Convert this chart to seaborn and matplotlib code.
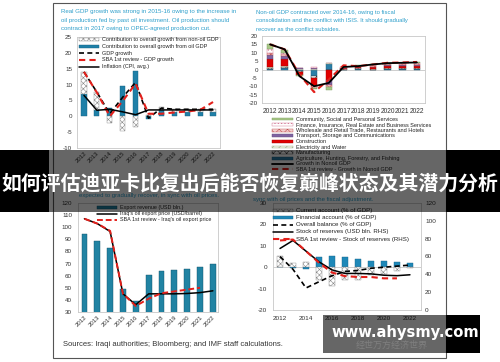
import numpy as np
import matplotlib
matplotlib.use("Agg")
import matplotlib.pyplot as plt
import seaborn as sns
from matplotlib.patches import Rectangle

sns.set_style("white")
plt.rcParams["font.family"] = ["Liberation Sans", "DejaVu Sans"]
plt.rcParams["hatch.linewidth"] = 0.4

# ---------------- data ----------------
years = [str(y) for y in range(2012, 2023)]

# Panel 1: real GDP growth
oil_contrib = [7.0, 2.0, 2.6, 9.6, 14.4, -0.9, 2.0, 1.4, 1.4, 1.4, 1.2]
nonoil_contrib = [7.0, 5.6, -2.1, -4.6, -3.3, 0.3, 0.8, 0.8, 0.8, 0.8, 1.0]
gdp_growth = [14.0, 7.6, 0.8, 6.0, 10.7, -0.6, 2.6, 2.2, 2.2, 2.2, 2.2]
sba_gdp_growth = [14.0, 7.5, 0.0, 4.8, 10.3, 0.8, 0.8, 1.2, 1.5, 2.0, 4.5]
inflation = [6.6, 1.9, 2.2, 1.4, 0.5, 2.0, 2.0, 2.0, 2.0, 2.0, 2.0]

# Panel 2: non-oil GDP growth by sector (contributions)
sectors = ["Community, Social and Personal Services",
           "Finance, Insurance, Real Estate and Business Services",
           "Wholesale and Retail Trade, Restaurants and Hotels",
           "Transport, Storage and Communications",
           "Construction",
           "Electricity and Water",
           "Manufacturing",
           "Agriculture, Hunting, Forestry, and Fishing"]
community = [2.5, 1.5, -0.5, -0.5, -2.0, 0.3, 0.3, 0.4, 0.5, 0.5, 0.5]
finance = [2.5, 1.0, 0.3, 0.2, 0.3, 0.3, 0.3, 0.4, 0.4, 0.5, 0.5]
wholesale = [1.5, 1.0, -0.5, -1.0, -1.0, 0.3, 0.4, 0.5, 0.6, 0.6, 0.6]
transport = [2.5, 2.0, 0.5, 0.5, -3.0, 0.2, 0.3, 0.4, 0.5, 0.5, 0.5]
construction = [4.5, 4.0, -1.5, -5.0, -6.0, 0.4, 0.5, 0.8, 1.0, 1.0, 1.0]
electricity = [0.5, 0.5, 0.2, 0.5, 0.2, 0.1, 0.1, 0.2, 0.2, 0.2, 0.2]
manufacturing = [0.5, 0.5, -0.5, -1.0, -0.3, 0.1, 0.2, 0.3, 0.3, 0.4, 0.4]
agriculture = [0.5, 1.0, -1.0, -4.0, 3.5, -0.5, 0.5, -0.5, 0.4, 0.4, 0.5]
nonoil_growth = [15.0, 12.0, -4.0, -10.0, -8.0, 1.5, 2.0, 3.0, 3.8, 4.0, 4.2]
sba_nonoil_growth = [15.0, 12.0, -3.0, -13.5, -6.0, 2.5, 2.0, 3.0, 4.0, 4.2, 4.5]

# Panel 3: exports
export_revenue = [94, 89, 83, 49, 39, 60.5, 64, 64.5, 65.5, 67.5, 70]
oil_export_price = [107, 103, 96.5, 45, 36, 45, 45, 45, 45.3, 46, 47.5]
sba_oil_export_price = [107, 103, 97, 45, 35, 41, 45.5, 47, 48.5, 50]

# Panel 4: external sector
current_account = [5.2, 1.9, 2.5, -6.0, -8.6, -6.0, -6.2, -3.8, -3.1, -1.7, -0.6]
financial_account = [0.0, -0.5, -1.0, 5.0, 5.3, 5.0, 4.0, 3.1, 2.7, 2.3, 1.9]
overall_balance = [5.0, -1.0, -9.7, -6.8, -4.0, -2.0, -1.5, -0.5, 0.0, 0.5, 1.0]
reserves = [69, 78, 66, 54, 45, 41, 41, 40.5, 39, 38.5, 39.5]
sba_reserves = [78, 79, 66, 53, 42, 38, 37, 37, 35.5, 35.5]

# ---------------- figure ----------------
W, H = 500, 362
fig = plt.figure(figsize=(5, 3.62), dpi=100)


def add_ax(x0, y0, x1, y1):
    return fig.add_axes([x0 / W, 1 - y1 / H, (x1 - x0) / W, (y1 - y0) / H])


bg = add_ax(0, 0, W, H)
bg.set_xlim(0, W); bg.set_ylim(H, 0); bg.axis("off"); bg.set_zorder(0)
bg.add_patch(Rectangle((53, 3), 393, 355, facecolor="white", edgecolor="#555555", lw=0.8))

TXT = "#333333"
TEAL = "#2e9fcb"
RED = "#e3201b"


def style(ax, size=4.5):
    ax.set_facecolor("white")
    for s in ax.spines.values():
        s.set_color("#c8c8c8"); s.set_linewidth(0.6)
    ax.tick_params(length=0, labelsize=size, colors=TXT)
    ax.set_xlabel(""); ax.set_ylabel("")
    ax.set_zorder(1)


idx = np.arange(len(years))

# ---------- Panel 1 ----------
ax1 = add_ax(77, 37, 220, 148)
ax1.bar(idx, oil_contrib, width=0.4, color="#1f80a8", edgecolor="#15607f", lw=0.3, zorder=2)
nb = [o if (o > 0) == (n > 0) else 0 for o, n in zip(oil_contrib, nonoil_contrib)]
ax1.bar(idx, nonoil_contrib, bottom=nb, width=0.4, facecolor="white", edgecolor="#888888",
        hatch="xxxxxx", lw=0.3, zorder=2)
sns.lineplot(x=idx, y=gdp_growth, ax=ax1, color="black", lw=1.2, linestyle=(0, (3, 2)), zorder=3)
sns.lineplot(x=idx, y=sba_gdp_growth, ax=ax1, color=RED, lw=1.5, linestyle=(0, (3, 2)), zorder=4)
sns.lineplot(x=idx, y=inflation, ax=ax1, color="black", lw=1.1, zorder=5)
ax1.set_xlim(-0.54, 10.54); ax1.set_ylim(-10, 25)
ax1.set_yticks(range(-10, 26, 5)); ax1.set_yticklabels([str(v) for v in range(-10, 26, 5)])
ax1.set_xticks(idx); ax1.set_xticklabels(years, rotation=45, ha="right", rotation_mode="anchor")
style(ax1)
ax1.tick_params(axis="y", pad=3.6)
ax1.tick_params(axis="x", pad=2, labelsize=4.3)

# ---------- Panel 2 ----------
ax2 = add_ax(262, 36, 425, 103)
stack_order = [agriculture, manufacturing, electricity, construction, transport, wholesale, finance, community]
sty = [dict(facecolor="#2a7fa8", edgecolor="#1d5d7a"),
       dict(facecolor="white", edgecolor="#333333", hatch="xxxxx"),
       dict(facecolor="#eef3e0", edgecolor="#9aa88a", hatch="/////"),
       dict(facecolor="#e00000", edgecolor="#a00000"),
       dict(facecolor="#8064a2", edgecolor="#5e4a78"),
       dict(facecolor="#f4d0d0", edgecolor="#c05050", hatch="xxxx"),
       dict(facecolor="white", edgecolor="#d07090", hatch="....."),
       dict(facecolor="#a8c888", edgecolor="#7a9a5e")]
pos = np.zeros(11); neg = np.zeros(11)
for vals, st in zip(stack_order, sty):
    v = np.array(vals)
    b = np.where(v >= 0, pos, neg)
    ax2.bar(idx, v, bottom=b, width=0.45, lw=0.3, zorder=2, **st)
    pos = pos + np.where(v >= 0, v, 0); neg = neg + np.where(v < 0, v, 0)
ax2.axhline(0, color="#bbbbbb", lw=0.5, zorder=1)
sns.lineplot(x=idx, y=sba_nonoil_growth, ax=ax2, color=RED, lw=1.5, linestyle=(0, (3, 2)), zorder=4)
sns.lineplot(x=idx, y=nonoil_growth, ax=ax2, color="black", lw=1.3, zorder=5)
ax2.set_xlim(-0.55, 10.55); ax2.set_ylim(-20, 20)
ax2.set_yticks(range(-20, 21, 5)); ax2.set_yticklabels([str(v) for v in range(-20, 21, 5)])
ax2.set_xticks(idx); ax2.set_xticklabels(years)
style(ax2)
ax2.tick_params(axis="y", pad=3)
ax2.tick_params(axis="x", pad=3.5, labelsize=4.8)

# ---------- Panel 3 ----------
ax3 = add_ax(78, 203, 218, 312)
sns.barplot(x=years, y=export_revenue, ax=ax3, color="#2183a3", saturation=1, width=0.45,
            edgecolor="#0f4f66", linewidth=0.3, zorder=2)
sns.lineplot(x=idx, y=oil_export_price, ax=ax3, color="black", lw=1.1, zorder=3)
sns.lineplot(x=idx[:len(sba_oil_export_price)], y=sba_oil_export_price, ax=ax3, color=RED, lw=1.4,
             linestyle=(0, (3, 1.5)), zorder=4)
ax3.set_xlim(-0.5, 10.4); ax3.set_ylim(30, 120)
ax3.set_yticks(range(30, 121, 10)); ax3.set_yticklabels([str(v) for v in range(30, 121, 10)])
ax3.set_xticks(idx); ax3.set_xticklabels(years, rotation=45, ha="right", rotation_mode="anchor")
style(ax3)
ax3.tick_params(axis="y", pad=4.3)
ax3.tick_params(axis="x", pad=2, labelsize=4.3)

# ---------- Panel 4 ----------
ax4 = add_ax(273, 203, 421, 310)
sns.barplot(x=years, y=financial_account, ax=ax4, color="#1e88b8", saturation=1, width=0.4,
            edgecolor="#15648a", linewidth=0.3, zorder=2)
sns.barplot(x=years, y=current_account, ax=ax4, color="white", saturation=1, width=0.4,
            edgecolor="#888888", linewidth=0.3, hatch="xxxxxx", zorder=2)
ax4.axhline(0, color="#bbbbbb", lw=0.5, zorder=1)
sns.lineplot(x=idx, y=overall_balance, ax=ax4, color="black", lw=1.2, linestyle=(0, (3, 2)), zorder=3)
ax4.set_xlim(-0.54, 10.85); ax4.set_ylim(-20, 30)
ax4.set_yticks(range(-20, 31, 10)); ax4.set_yticklabels([str(v) for v in range(-20, 31, 10)])
ax4.set_xticks(idx[::2]); ax4.set_xticklabels(years[::2])
style(ax4, 4.6)
ax4.tick_params(axis="y", pad=4.3)
ax4.tick_params(axis="x", pad=4)
ax4b = ax4.twinx()
sns.lineplot(x=idx, y=reserves, ax=ax4b, color="black", lw=1.1, zorder=3)
sns.lineplot(x=idx[:len(sba_reserves)], y=sba_reserves, ax=ax4b, color=RED, lw=1.5,
             linestyle=(0, (3, 2)), zorder=4)
ax4b.set_ylim(0, 120); ax4b.set_yticks(range(0, 121, 20))
ax4b.set_yticklabels([str(v) for v in range(0, 121, 20)])
ax4b.set_xlim(-0.54, 10.85)
for s in ax4b.spines.values():
    s.set_visible(False)
ax4b.tick_params(length=0, labelsize=4.6, colors=TXT, pad=2.9)
ax4b.set_ylabel("")
ax4b.set_zorder(2); ax4b.patch.set_visible(False)

# ---------------- overlay (texts, legends, banners) ----------------
ov = add_ax(0, 0, W, H)
ov.set_xlim(0, W); ov.set_ylim(H, 0); ov.axis("off"); ov.set_zorder(10)
ov.patch.set_visible(False)


def ltext(x, y, s, size, color="#222222"):
    ov.text(x, y, s, fontsize=size, va="center", ha="left", color=color)


def lpatch(x, y, w, h, **kw):
    ov.add_patch(Rectangle((x, y - h / 2), w, h, lw=0.3, **kw))


def lline(x, y, w, **kw):
    ov.plot([x, x + w], [y, y], **kw)


# titles
for i, s in enumerate(["Real GDP growth was strong in 2015-16 owing to the increase in",
                       "oil production fed by past oil investment. Oil production should",
                       "contract in 2017 owing to OPEC-agreed production cut."]):
    ltext(61, 12 + 8.3 * i, s, 4.45, TEAL)
for i, s in enumerate(["Non-oil GDP contracted over 2014-16, owing to fiscal",
                       "consolidation and the conflict with ISIS. It should gradually",
                       "recover as the conflict subsides."]):
    ltext(256, 12.5 + 8.3 * i, s, 4.2, TEAL)
ltext(79, 196, "expected to gradually recover, in sync with oil prices.", 4.3, TEAL)
ltext(253, 200, "sync with oil prices and the fiscal adjustment.", 4.3, TEAL)
ltext(63, 345, "Sources: Iraqi authorities; Bloomberg; and IMF staff calculations.", 5.5, TXT)

# legend panel 1
ly = [39.5, 46.3, 53.1, 59.9, 66.7]
lpatch(79, ly[0], 20, 3, facecolor="white", edgecolor="#888888", hatch="xxxxxx")
lpatch(79, ly[1], 20, 3, facecolor="#1f80a8", edgecolor="#15607f")
lline(79, ly[2], 20, color="black", lw=1.2, linestyle=(0, (3, 2)))
lline(79, ly[3], 20, color=RED, lw=1.5, linestyle=(0, (3, 2)))
lline(79, ly[4], 20, color="black", lw=1.1)
for y, s in zip(ly, ["Contribution to overall growth from non-oil GDP",
                     "Contribution to overall growth from oil GDP",
                     "GDP growth", "SBA 1st review - GDP growth", "Inflation (CPI, avg.)"]):
    ltext(102, y, s, 4.0)

# legend panel 2
ly2 = [119 + 5.6 * i for i in range(10)]
for y, st, s in zip(ly2, sty[::-1], sectors):
    lpatch(272, y, 21, 2.8, **st)
    ltext(296, y, s, 4.0)
lline(272, ly2[8], 21, color="black", lw=1.3)
ltext(296, ly2[8], "Growth in Nonoil GDP", 4.0)
lline(272, ly2[9], 21, color=RED, lw=1.5, linestyle=(0, (3, 2)))
ltext(296, ly2[9], "SBA 1st review - Growth in Nonoil GDP", 4.0)

# legend panel 3
ly3 = [207, 213.5, 220]
lpatch(97, ly3[0], 20, 3, facecolor="#2183a3", edgecolor="#0f4f66")
lline(97, ly3[1], 20, color="black", lw=1.1)
lline(97, ly3[2], 20, color=RED, lw=1.4, linestyle=(0, (3, 1.5)))
for y, s in zip(ly3, ["Export revenue (USD bln.)", "Iraq's oil export price (USD/barrel)",
                      "SBA 1st review - Iraq's oil export price"]):
    ltext(120, y, s, 3.85)

# legend panel 4
ly4 = [210.7, 217.5, 224.7, 231.8, 239.2]
lpatch(273, ly4[0], 20, 3.2, facecolor="white", edgecolor="#888888", hatch="xxxxxx")
lpatch(273, ly4[1], 20, 3.2, facecolor="#1e88b8", edgecolor="#15648a")
lline(273, ly4[2], 20, color="black", lw=1.2, linestyle=(0, (3, 2)))
lline(273, ly4[3], 20, color="black", lw=1.1)
lline(273, ly4[4], 20, color=RED, lw=1.5, linestyle=(0, (3, 2)))
for y, s in zip(ly4, ["Current account (% of GDP)", "Financial account (% of GDP)",
                      "Overall balance (% of GDP)", "Stock of reserves (USD bln. RHS)",
                      "SBA 1st review - Stock of reserves (RHS)"]):
    ltext(296, y, s, 4.4)

# headline banner
ov.add_patch(Rectangle((0, 150), W, 62, facecolor="black", alpha=0.6, lw=0, zorder=20))
ov.add_patch(Rectangle((0, 150), 49, 62, facecolor="black", lw=0, zorder=21))
ov.add_patch(Rectangle((446, 150), 54, 62, facecolor="black", lw=0, zorder=21))
ov.text(250, 183, "如何评估迪亚卡比复出后能否恢复巅峰状态及其潜力分析", fontsize=14.3,
        fontweight="bold", color="white", ha="center", va="center",
        family=["Noto Sans CJK SC", "DejaVu Sans"], zorder=22)

# watermark
ov.add_patch(Rectangle((323, 315), 123, 38, facecolor="black", alpha=0.6, lw=0, zorder=20))
ov.add_patch(Rectangle((446, 315), 34, 38, facecolor="black", lw=0, zorder=21))
ov.text(405, 332, "www.ahysmy.com", fontsize=10.6, fontweight="bold", color="white",
        ha="center", va="center", family=["DejaVu Sans"], zorder=22)
ov.text(392, 345, "经世万方经济世界", fontsize=6.5, color="#8a8a8a", alpha=0.7,
        ha="center", va="center", family=["Noto Sans CJK SC", "DejaVu Sans"], zorder=22)

fig.savefig("out.png", dpi=100)
